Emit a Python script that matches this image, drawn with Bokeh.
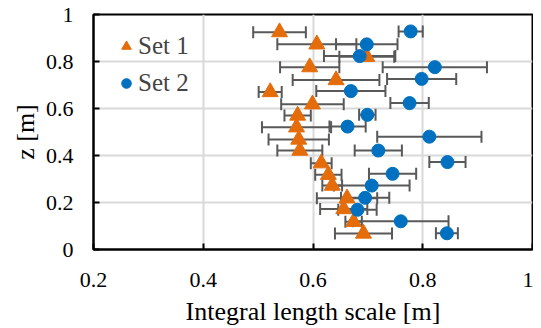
from bokeh.plotting import figure
from bokeh.models import ColumnDataSource, Whisker, TeeHead, FixedTicker, Legend, LegendItem
from bokeh.embed import file_html
from bokeh.resources import INLINE

# ---- data ----
set1_x = [0.539, 0.607, 0.698, 0.594, 0.642, 0.522, 0.599, 0.572, 0.570,
          0.574, 0.576, 0.615, 0.628, 0.635, 0.662, 0.656, 0.674, 0.692]
set1_z = [0.925, 0.873, 0.820, 0.776, 0.721, 0.670, 0.618, 0.570, 0.520,
          0.468, 0.421, 0.367, 0.318, 0.272, 0.218, 0.172, 0.118, 0.068]
set1_err = [0.048, 0.072, 0.050, 0.054, 0.079, 0.021, 0.057, 0.024, 0.063,
            0.055, 0.041, 0.019, 0.024, 0.018, 0.055, 0.043, 0.015, 0.052]

set2_x = [0.778, 0.698, 0.685, 0.822, 0.798, 0.669, 0.776, 0.699, 0.663,
          0.812, 0.719, 0.845, 0.745, 0.707, 0.695, 0.681, 0.760, 0.844]
set2_z = [0.928, 0.873, 0.823, 0.776, 0.726, 0.674, 0.623, 0.573, 0.523,
          0.480, 0.421, 0.372, 0.322, 0.272, 0.220, 0.169, 0.120, 0.069]
set2_err = [0.022, 0.056, 0.065, 0.095, 0.063, 0.063, 0.035, 0.015, 0.033,
            0.095, 0.043, 0.033, 0.043, 0.069, 0.044, 0.035, 0.087, 0.020]

x_ticks = [0.2, 0.4, 0.6, 0.8, 1.0]
x_tick_labels = ["0.2", "0.4", "0.6", "0.8", "1"]
y_ticks = [0.0, 0.2, 0.4, 0.6, 0.8, 1.0]
y_tick_labels = ["0", "0.2", "0.4", "0.6", "0.8", "1"]

series_names = ["Set 1", "Set 2"]
ORANGE = "#E46C0A"
BLUE = "#0070C0"
BAR = "#595959"
FONT = "Liberation Serif"

# ---- figure ----
p = figure(width=533, height=328, x_range=(0.2, 1.0), y_range=(0.0, 1.0),
           output_backend="svg", toolbar_location=None,
           min_border_left=93, min_border_right=1, min_border_top=14, min_border_bottom=79)
p.background_fill_color = "white"
p.border_fill_color = "white"
p.outline_line_color = "black"
p.outline_line_width = 2

for ax, ticks, labels in ((p.xaxis[0], x_ticks, x_tick_labels), (p.yaxis[0], y_ticks, y_tick_labels)):
    ax.ticker = FixedTicker(ticks=ticks)
    ax.major_label_overrides = {t: l for t, l in zip(ticks, labels)}
    ax.major_label_text_font = FONT
    ax.major_label_text_font_size = "22px"
    ax.major_label_text_color = "black"
    ax.axis_label_text_font = FONT
    ax.axis_label_text_font_size = "26px"
    ax.axis_label_text_font_style = "normal"
    ax.axis_label_text_color = "black"
    ax.axis_line_color = "black"
    ax.axis_line_width = 2
    ax.major_tick_in = 6
    ax.major_tick_out = 0
    ax.major_tick_line_color = "black"
    ax.major_tick_line_width = 2
    ax.minor_tick_line_color = None

p.xaxis.axis_label = "Integral length scale [m]"
p.yaxis.axis_label = "z [m]"
p.xaxis.major_label_standoff = 23
p.xaxis.axis_label_standoff = 7
p.yaxis.major_label_standoff = 20
p.yaxis.axis_label_standoff = 3

p.xgrid.grid_line_color = "#D9D9D9"
p.ygrid.grid_line_color = "#D9D9D9"
p.xgrid.grid_line_width = 2
p.ygrid.grid_line_width = 2
p.xgrid.ticker = FixedTicker(ticks=x_ticks)
p.ygrid.ticker = FixedTicker(ticks=y_ticks)

def make_src(xs, zs, errs):
    return ColumnDataSource(dict(
        x=xs, z=zs,
        lo=[a - e for a, e in zip(xs, errs)],
        hi=[a + e for a, e in zip(xs, errs)],
    ))

src1 = make_src(set1_x, set1_z, set1_err)
src2 = make_src(set2_x, set2_z, set2_err)

for src in (src1, src2):
    w = Whisker(source=src, base="z", lower="lo", upper="hi", dimension="width",
                line_color=BAR, line_width=2,
                upper_head=TeeHead(size=12, line_color=BAR, line_width=2),
                lower_head=TeeHead(size=12, line_color=BAR, line_width=2))
    p.add_layout(w)

r1 = p.scatter("x", "z", source=src1, marker="triangle", size=16,
               fill_color=ORANGE, line_color=ORANGE)
r2 = p.scatter("x", "z", source=src2, marker="circle", size=13,
               fill_color=BLUE, line_color=BLUE)

legend = Legend(items=[LegendItem(label=series_names[0], renderers=[r1]),
                       LegendItem(label=series_names[1], renderers=[r2])],
                location=(21, 152), padding=0, margin=0, spacing=9,
                glyph_width=24, glyph_height=28, label_height=28, label_standoff=0,
                label_text_font=FONT, label_text_font_size="25px",
                border_line_alpha=0, background_fill_alpha=0)
p.add_layout(legend)

open("out.html", "w").write(file_html(p, INLINE))
